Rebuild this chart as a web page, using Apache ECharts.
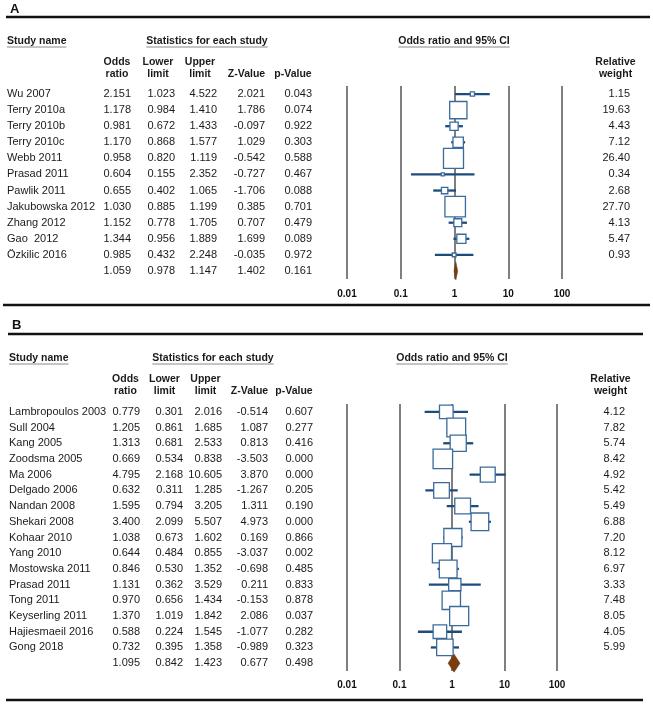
<!DOCTYPE html>
<html lang="en">
<head>
<meta charset="UTF-8" />
<title>Forest plots</title>
<script src="https://cdn.jsdelivr.net/npm/echarts@6/dist/echarts.min.js"></script>
<style>
  html, body { margin: 0; padding: 0; background: #fff; }
  #main { width: 653px; height: 704px; }
</style>
</head>
<body>
<div id="main"></div>
<script>
// ---- panel A data
var namesA = ['Wu 2007', 'Terry 2010a', 'Terry 2010b', 'Terry 2010c', 'Webb 2011', 'Prasad 2011',
  'Pawlik 2011', 'Jakubowska 2012', 'Zhang 2012', 'Gao  2012', 'Özkilic 2016']
var orA = [2.151, 1.178, 0.981, 1.170, 0.958, 0.604, 0.655, 1.030, 1.152, 1.344, 0.985]
var lowerA = [1.023, 0.984, 0.672, 0.868, 0.820, 0.155, 0.402, 0.885, 0.778, 0.956, 0.432]
var upperA = [4.522, 1.410, 1.433, 1.577, 1.119, 2.352, 1.065, 1.199, 1.705, 1.889, 2.248]
var zA = [2.021, 1.786, -0.097, 1.029, -0.542, -0.727, -1.706, 0.385, 0.707, 1.699, -0.035]
var pA = [0.043, 0.074, 0.922, 0.303, 0.588, 0.467, 0.088, 0.701, 0.479, 0.089, 0.972]
var weightA = [1.15, 19.63, 4.43, 7.12, 26.40, 0.34, 2.68, 27.70, 4.13, 5.47, 0.93]
var summaryA = [1.059, 0.978, 1.147, 1.402, 0.161] // or, lower, upper, z, p

// ---- panel B data
var namesB = ['Lambropoulos 2003', 'Sull 2004', 'Kang 2005', 'Zoodsma 2005', 'Ma 2006', 'Delgado 2006',
  'Nandan 2008', 'Shekari 2008', 'Kohaar 2010', 'Yang 2010', 'Mostowska 2011', 'Prasad 2011',
  'Tong 2011', 'Keyserling 2011', 'Hajiesmaeil 2016', 'Gong 2018']
var orB = [0.779, 1.205, 1.313, 0.669, 4.795, 0.632, 1.595, 3.400, 1.038, 0.644, 0.846, 1.131, 0.970, 1.370, 0.588, 0.732]
var lowerB = [0.301, 0.861, 0.681, 0.534, 2.168, 0.311, 0.794, 2.099, 0.673, 0.484, 0.530, 0.362, 0.656, 1.019, 0.224, 0.395]
var upperB = [2.016, 1.685, 2.533, 0.838, 10.605, 1.285, 3.205, 5.507, 1.602, 0.855, 1.352, 3.529, 1.434, 1.842, 1.545, 1.358]
var zB = [-0.514, 1.087, 0.813, -3.503, 3.870, -1.267, 1.311, 4.973, 0.169, -3.037, -0.698, 0.211, -0.153, 2.086, -1.077, -0.989]
var pB = [0.607, 0.277, 0.416, 0.000, 0.000, 0.205, 0.190, 0.000, 0.866, 0.002, 0.485, 0.833, 0.878, 0.037, 0.282, 0.323]
var weightB = [4.12, 7.82, 5.74, 8.42, 4.92, 5.42, 5.49, 6.88, 7.20, 8.12, 6.97, 3.33, 7.48, 8.05, 4.05, 5.99]
var summaryB = [1.095, 0.842, 1.423, 0.677, 0.498]

var axisTicks = ['0.01', '0.1', '1', '10', '100']

var FONT = "'Liberation Sans', Arial, sans-serif"
var TXT = '#1a1a1a'
var chart = echarts.init(document.getElementById('main'))

// panel layouts (pixels)
var panels = [
  { names: namesA, or: orA, lo: lowerA, hi: upperA, z: zA, p: pA, w: weightA, sum: summaryA,
    nameX: 7, cols: [131, 175, 217, 265, 312], wX: 630, side: 20.5,
    grid: { left: 347, top: 86, width: 215, height: 193 }, labelMargin: 10 },
  { names: namesB, or: orB, lo: lowerB, hi: upperB, z: zB, p: pB, w: weightB, sum: summaryB,
    nameX: 9, cols: [140, 183, 222, 268, 313], wX: 625, side: 19.5,
    grid: { left: 347, top: 404, width: 210, height: 267 }, labelMargin: 9 }
]

function forestItem(cfg) {
  var wMax = Math.max.apply(null, cfg.w)
  return function (params, api) {
    var row = api.value(1)
    var c = api.coord([api.value(0), row])
    var lo = api.coord([api.value(2), row])
    var hi = api.coord([api.value(3), row])
    var w = api.value(4)
    if (w < 0) {
      // pooled estimate diamond
      return {
        type: 'polygon',
        shape: { points: [[lo[0], c[1]], [c[0], c[1] - 9], [hi[0], c[1]], [c[0], c[1] + 9]] },
        style: { fill: '#7a3d0c', stroke: '#6b3408', lineWidth: 0.5 }
      }
    }
    var s = Math.max(3, cfg.side * Math.sqrt(w / wMax))
    return {
      type: 'group',
      children: [
        { type: 'line', shape: { x1: lo[0], y1: c[1], x2: hi[0], y2: c[1] },
          style: { stroke: '#1d4b7a', lineWidth: 2.3 } },
        { type: 'rect', shape: { x: c[0] - s / 2, y: c[1] - s / 2, width: s, height: s },
          style: { fill: '#fff', stroke: '#3a6b9b', lineWidth: 1.3 } }
      ]
    }
  }
}

function txt(text, x, y, align, opts) {
  opts = opts || {}
  return {
    type: 'text', x: x, y: y,
    style: {
      text: text, fill: opts.color || TXT,
      fontSize: opts.size || 11, fontFamily: FONT, fontWeight: opts.bold ? 'bold' : 'normal',
      align: align, textAlign: align, verticalAlign: 'middle', textVerticalAlign: 'middle'
    }
  }
}

function tableItem(cfg) {
  var n = cfg.names.length
  return function (params, api) {
    var i = params.dataIndex
    var y = api.coord([1, i])[1]
    var vals, name = '', wt = ''
    if (i < n) {
      vals = [cfg.or[i], cfg.lo[i], cfg.hi[i], cfg.z[i], cfg.p[i]]
      name = cfg.names[i]
      wt = cfg.w[i].toFixed(2)
    } else {
      vals = cfg.sum
    }
    var children = [txt(name, cfg.nameX, y, 'left'), txt(wt, cfg.wX, y, 'right')]
    for (var k = 0; k < 5; k++) children.push(txt(vals[k].toFixed(3), cfg.cols[k], y, 'right'))
    return { type: 'group', children: children }
  }
}

var grids = [], xAxes = [], yAxes = [], series = []
panels.forEach(function (cfg, g) {
  var n = cfg.names.length
  grids.push(cfg.grid)
  xAxes.push({
    type: 'log', logBase: 10, min: 0.01, max: 100, gridIndex: g,
    axisLine: { show: false }, axisTick: { show: false },
    splitLine: { show: true, lineStyle: { color: '#555', width: 1.5 } },
    axisLabel: {
      fontSize: 10, fontWeight: 'bold', fontFamily: FONT, color: '#111', margin: cfg.labelMargin,
      formatter: function (v) {
        var e = Math.round(Math.log(v) / Math.LN10)
        return axisTicks[e + 2]
      }
    }
  })
  yAxes.push({ type: 'value', inverse: true, min: -0.5, max: n + 0.5, gridIndex: g, show: false })
  var fd = []
  for (var i = 0; i < n; i++) fd.push([cfg.or[i], i, cfg.lo[i], cfg.hi[i], cfg.w[i]])
  fd.push([cfg.sum[0], n, cfg.sum[1], cfg.sum[2], -1])
  series.push({
    type: 'custom', xAxisIndex: g, yAxisIndex: g, clip: false, silent: true,
    renderItem: forestItem(cfg), encode: { x: [0, 2, 3], y: 1 }, data: fd
  })
  var td = []
  for (var j = 0; j <= n; j++) td.push([1, j])
  series.push({
    type: 'custom', xAxisIndex: g, yAxisIndex: g, clip: false, silent: true,
    renderItem: tableItem(cfg), encode: { x: 0, y: 1 }, data: td
  })
})

// measure header widths for underlines
var ctx = document.createElement('canvas').getContext('2d')
function textW(s, size) {
  ctx.font = 'bold ' + size + 'px ' + FONT
  return ctx.measureText(s).width
}

function headers(h) {
  var els = []
  var hs = 10.5
  var items = [
    ['Study name', h.nameX, 'left'],
    ['Statistics for each study', h.statX, 'center'],
    ['Odds ratio and 95% CI', h.plotX, 'center']
  ]
  items.forEach(function (it) {
    els.push(txt(it[0], it[1], h.y, it[2], { bold: true, size: hs }))
    var w = textW(it[0], hs)
    var x0 = it[2] === 'left' ? it[1] : it[1] - w / 2
    els.push({ type: 'line', shape: { x1: x0, y1: h.y + 6, x2: x0 + w, y2: h.y + 6 },
      style: { stroke: '#8a8a8a', lineWidth: 1 } })
  })
  var two = [['Odds', 'ratio', h.c[0]], ['Lower', 'limit', h.c[1]], ['Upper', 'limit', h.c[2]], ['Relative', 'weight', h.c[5]]]
  two.forEach(function (t) {
    els.push(txt(t[0], t[2], h.y1, 'center', { bold: true, size: 10.5 }))
    els.push(txt(t[1], t[2], h.y2, 'center', { bold: true, size: 10.5 }))
  })
  els.push(txt('Z-Value', h.c[3], h.y2, 'center', { bold: true, size: 10.5 }))
  els.push(txt('p-Value', h.c[4], h.y2, 'center', { bold: true, size: 10.5 }))
  return els
}

function rule(x1, x2, y) {
  return { type: 'line', shape: { x1: x1, y1: y, x2: x2, y2: y }, style: { stroke: '#111', lineWidth: 2.5 } }
}

var graphic = [
  txt('A', 10, 9, 'left', { bold: true, size: 13, color: '#111' }),
  rule(6, 650, 17),
  rule(3, 650, 305),
  txt('B', 12, 325, 'left', { bold: true, size: 13, color: '#111' }),
  rule(8, 643, 334),
  rule(6, 643, 700)
]
graphic = graphic.concat(headers({ nameX: 7, statX: 207, plotX: 454, y: 41, y1: 62, y2: 74,
  c: [117, 158, 200, 246.5, 293, 615.5] }))
graphic = graphic.concat(headers({ nameX: 9, statX: 213, plotX: 452, y: 358, y1: 379, y2: 391,
  c: [125.5, 164.5, 205.5, 249.5, 294, 610.5] }))

chart.setOption({
  animation: false,
  backgroundColor: '#fff',
  grid: grids,
  xAxis: xAxes,
  yAxis: yAxes,
  series: series,
  graphic: graphic
})
</script>
</body>
</html>
